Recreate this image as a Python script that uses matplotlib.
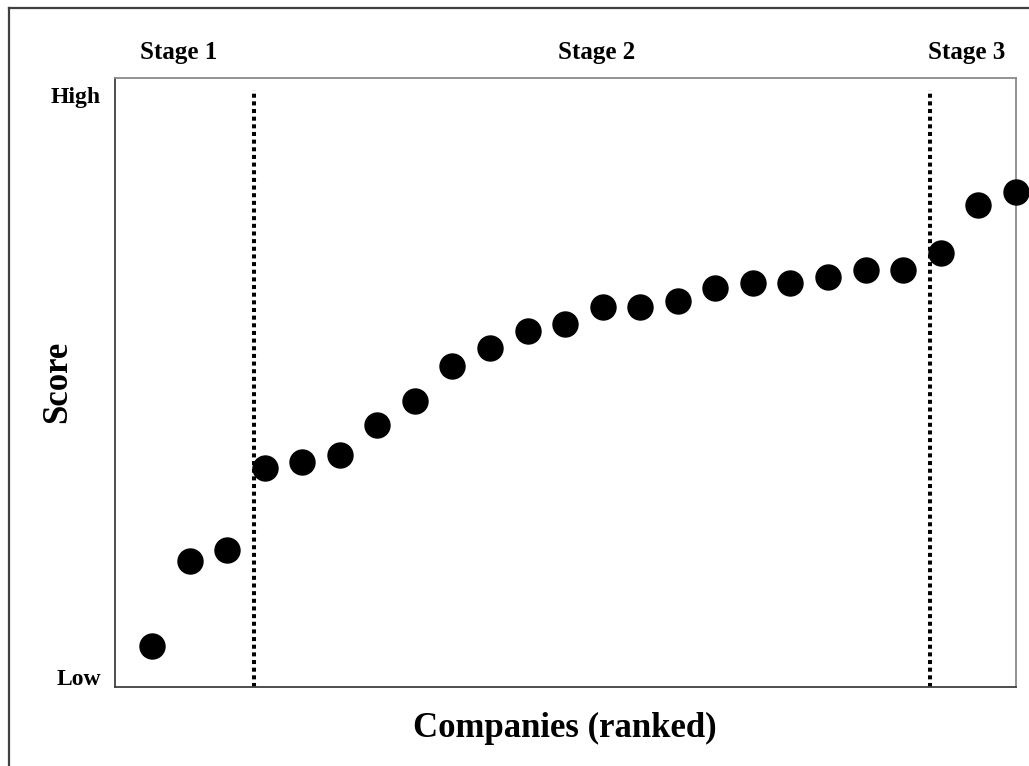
import matplotlib.pyplot as plt
from matplotlib.lines import Line2D
import matplotlib.transforms as mtransforms

# companies ranked by score (score on an arbitrary 0-100 scale, Low..High)
rank = list(range(1, 25))
score = [6.8, 20.7, 22.5, 36.0, 37.0, 38.1, 43.0, 47.0, 52.7, 55.6, 58.4, 59.5,
         62.3, 62.3, 63.4, 65.5, 66.3, 66.3, 67.3, 68.4, 68.4, 71.3, 79.1, 81.2]
stage_names = ['Stage 1', 'Stage 2', 'Stage 3']
stage_centers = [1.72, 12.85, 22.7]
stage_bounds = [3.72, 21.72]

plt.rcParams['font.family'] = ['Liberation Serif', 'DejaVu Serif']
plt.rcParams['font.weight'] = 'bold'

fig = plt.figure(figsize=(10.29, 7.66), dpi=100)
ax = fig.add_axes([0.1113, 0.1031, 0.8758, 0.7955])

ax.plot(rank, score, 'o', color='black', markersize=18, clip_on=False, zorder=3)
ax.vlines(stage_bounds, 0, 98, colors='black', linewidth=2.9,
          linestyles=(0, (1, 0.9)), zorder=2)

ax.set_xlim(0, 24)
ax.set_ylim(0, 100)
ax.set_xticks([])
ax.set_yticks([1.6, 97.2])
ax.set_yticklabels(['Low', 'High'], fontsize=17, fontweight='bold')
ax.tick_params(axis='y', length=0, pad=10)

for side in ['left', 'bottom']:
    ax.spines[side].set_color('#404040')
    ax.spines[side].set_linewidth(1.3)
for side in ['top', 'right']:
    ax.spines[side].set_color('#8a8a8a')
    ax.spines[side].set_linewidth(1.3)

trans = mtransforms.blended_transform_factory(ax.transData, ax.transAxes)
for name, cx in zip(stage_names, stage_centers):
    ax.text(cx, 1.0405, name, transform=trans, ha='center', va='center',
            fontsize=18, fontweight='bold')

fig.text(0.0564, 0.501, 'Score', rotation=90, ha='center', va='center',
         fontsize=25, fontweight='bold')
fig.text(0.549, 0.0496, 'Companies (ranked)', ha='center', va='center',
         fontsize=25, fontweight='bold')

# outer frame (only left and top edges are inside the image)
fig.add_artist(Line2D([9 / 1029, 9 / 1029], [0, 1 - 7.5 / 766], color='#404040',
                      linewidth=1.6, transform=fig.transFigure))
fig.add_artist(Line2D([9 / 1029, 1], [1 - 7.5 / 766, 1 - 7.5 / 766], color='#404040',
                      linewidth=1.6, transform=fig.transFigure))

plt.savefig('out.png', dpi=100)
